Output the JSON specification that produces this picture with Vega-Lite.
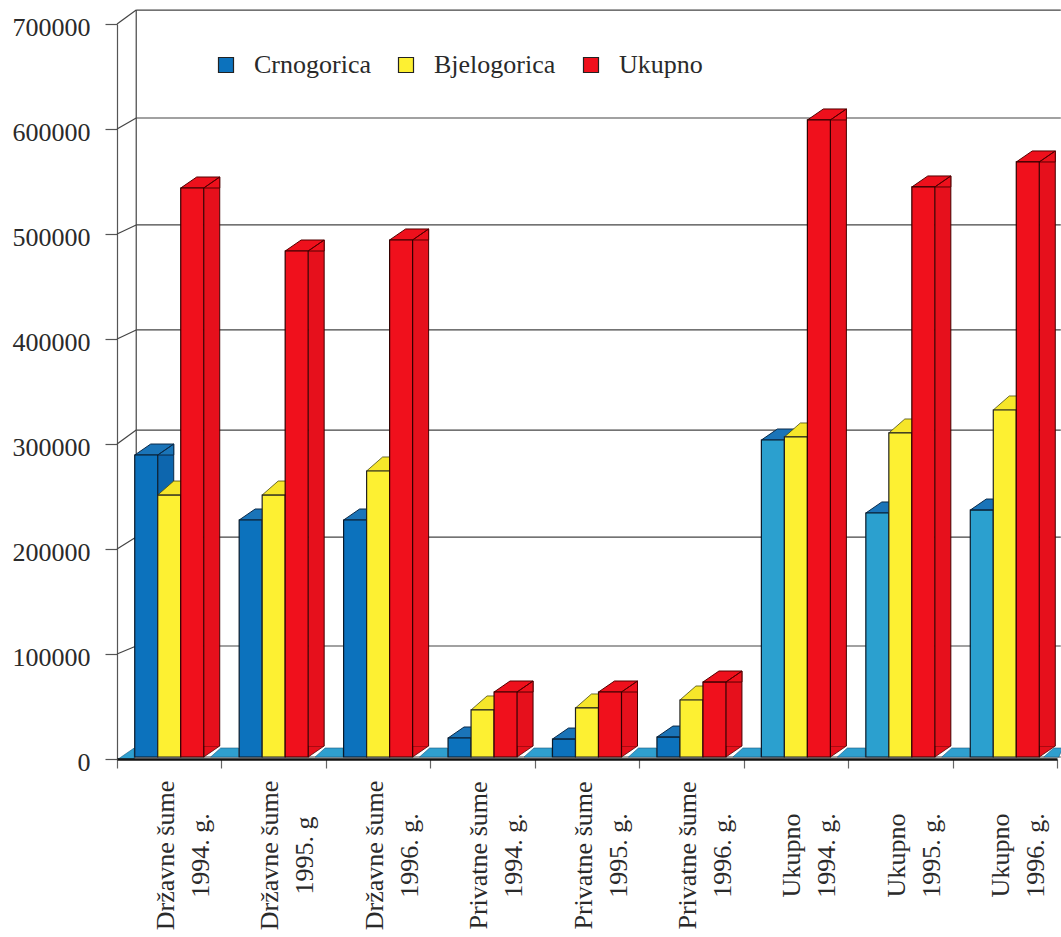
{"$schema":"https://vega.github.io/schema/vega-lite/v6.json","width":940,"height":735,"autosize":"none","padding":{"left":117,"top":24,"right":4,"bottom":178},"background":"white","config":{"view":{"stroke":null},"font":"Liberation Serif"},"datasets":{"sjeca":[
{"skupina":"Državne šume|1994. g.","vrsta":"Crnogorica","m3":287600},{"skupina":"Državne šume|1994. g.","vrsta":"Bjelogorica","m3":249500},{"skupina":"Državne šume|1994. g.","vrsta":"Ukupno","m3":541900},
{"skupina":"Državne šume|1995. g","vrsta":"Crnogorica","m3":225700},{"skupina":"Državne šume|1995. g","vrsta":"Bjelogorica","m3":249500},{"skupina":"Državne šume|1995. g","vrsta":"Ukupno","m3":481900},
{"skupina":"Državne šume|1996. g.","vrsta":"Crnogorica","m3":225700},{"skupina":"Državne šume|1996. g.","vrsta":"Bjelogorica","m3":272400},{"skupina":"Državne šume|1996. g.","vrsta":"Ukupno","m3":492400},
{"skupina":"Privatne šume|1994. g.","vrsta":"Crnogorica","m3":18100},{"skupina":"Privatne šume|1994. g.","vrsta":"Bjelogorica","m3":44800},{"skupina":"Privatne šume|1994. g.","vrsta":"Ukupno","m3":61900},
{"skupina":"Privatne šume|1995. g.","vrsta":"Crnogorica","m3":17100},{"skupina":"Privatne šume|1995. g.","vrsta":"Bjelogorica","m3":46700},{"skupina":"Privatne šume|1995. g.","vrsta":"Ukupno","m3":61900},
{"skupina":"Privatne šume|1996. g.","vrsta":"Crnogorica","m3":19000},{"skupina":"Privatne šume|1996. g.","vrsta":"Bjelogorica","m3":54300},{"skupina":"Privatne šume|1996. g.","vrsta":"Ukupno","m3":71400},
{"skupina":"Ukupno|1994. g.","vrsta":"Crnogorica","m3":301900},{"skupina":"Ukupno|1994. g.","vrsta":"Bjelogorica","m3":304800},{"skupina":"Ukupno|1994. g.","vrsta":"Ukupno","m3":606700},
{"skupina":"Ukupno|1995. g.","vrsta":"Crnogorica","m3":232400},{"skupina":"Ukupno|1995. g.","vrsta":"Bjelogorica","m3":308600},{"skupina":"Ukupno|1995. g.","vrsta":"Ukupno","m3":542900},
{"skupina":"Ukupno|1996. g.","vrsta":"Crnogorica","m3":235200},{"skupina":"Ukupno|1996. g.","vrsta":"Bjelogorica","m3":330500},{"skupina":"Ukupno|1996. g.","vrsta":"Ukupno","m3":566700}],
"mreza":[{"tick":0,"wall":1900},{"tick":100000,"wall":107600},{"tick":200000,"wall":211400},{"tick":300000,"wall":313300},{"tick":400000,"wall":408600},{"tick":500000,"wall":508600},{"tick":600000,"wall":610500},{"tick":700000,"wall":713300}],
"zid":[{"top":713300,"bottom":1900}]},
"layer":[
{"data":{"name":"mreza"},"mark":{"type":"rule","color":"#444","strokeWidth":1.2,"xOffset":-33,"x2Offset":56,"clip":false},"encoding":{
"x":{"datum":"Državne šume|1994. g.","type":"nominal","title":null,"scale":{"domain":["Državne šume|1994. g.","Državne šume|1995. g","Državne šume|1996. g.","Privatne šume|1994. g.","Privatne šume|1995. g.","Privatne šume|1996. g.","Ukupno|1994. g.","Ukupno|1995. g.","Ukupno|1996. g."],"paddingInner":0,"paddingOuter":0},"axis":{"zindex":1,"domainColor":"#111","domainWidth":2.5,"tickColor":"#666","tickSize":9,"tickWidth":1.2,"tickBand":"extent","labelAngle":270,"labelAlign":"center","labelBaseline":"middle","labelFont":"Liberation Serif","labelFontSize":26,"labelColor":"#2a2a2a","labelPadding":87,"labelLineHeight":35,"labelOffset":-4,"labelExpr":"split(datum.label,'|')","labelOverlap":false}},
"x2":{"datum":"Ukupno|1996. g."},
"y":{"field":"wall","type":"quantitative","title":null,"scale":{"domain":[0,700000],"nice":false},"axis":{"grid":false,"values":[0,100000,200000,300000,400000,500000,600000,700000],"format":"d","domainColor":"#555","domainWidth":1.2,"tickColor":"#555","tickWidth":1.2,"tickSize":12,"labelFont":"Liberation Serif","labelFontSize":26,"labelColor":"#2a2a2a","labelPadding":15,"labelOffset":3}}}},
{"data":{"name":"mreza"},"mark":{"type":"rule","color":"#444","strokeWidth":1.2,"xOffset":-52.2,"x2Offset":-33,"clip":false},"encoding":{"x":{"datum":"Državne šume|1994. g.","type":"nominal","title":null},"x2":{"datum":"Državne šume|1994. g."},"y":{"field":"tick","type":"quantitative","title":null},"y2":{"field":"wall"}}},
{"data":{"name":"zid"},"mark":{"type":"rule","color":"#444","strokeWidth":1.2,"xOffset":-33,"clip":false},"encoding":{"x":{"datum":"Državne šume|1994. g.","type":"nominal","title":null},"y":{"field":"top","type":"quantitative","title":null},"y2":{"field":"bottom"}}},
{"data":{"name":"sjeca"},"transform":[{"filter":"datum.vrsta==='Crnogorica' && datum.skupina!=='Državne šume|1994. g.'"}],"mark":{"type":"point","filled":true,"opacity":1,"size":4,"shape":"M-40,0L-30,-9L-12,-9L-12,0Z","fill":"#2f9fcf","stroke":"#1a5a80","strokeWidth":0.6,"xOffset":-23,"yOffset":-2},"encoding":{"x":{"field":"skupina","type":"nominal","title":null},"y":{"datum":0,"type":"quantitative","title":null}}},
{"data":{"name":"sjeca"},"transform":[{"filter":"datum.vrsta==='Crnogorica' && datum.skupina==='Državne šume|1994. g.'"}],"mark":{"type":"point","filled":true,"opacity":1,"size":4,"shape":"M-28,2L-12,-9L-12,0L-12,2Z","fill":"#2f9fcf","stroke":"#1a5a80","strokeWidth":0.6,"xOffset":-23,"yOffset":-2},"encoding":{"x":{"field":"skupina","type":"nominal","title":null},"y":{"datum":0,"type":"quantitative","title":null}}},
{"data":{"name":"sjeca"},"transform":[{"filter":"datum.vrsta==='Ukupno' && datum.skupina==='Ukupno|1996. g.'"}],"mark":{"type":"point","filled":true,"opacity":1,"size":4,"shape":"M16,0L26,-9L35,-9L31,0Z","fill":"#2f9fcf","stroke":"#1a5a80","strokeWidth":0.6,"xOffset":23,"yOffset":-2,"clip":false},"encoding":{"x":{"field":"skupina","type":"nominal","title":null},"y":{"datum":0,"type":"quantitative","title":null}}},

{"data":{"name":"sjeca"},"transform":[{"filter":"datum.vrsta==='Crnogorica'"}],"mark":{"type":"bar","width":16,"xOffset":-3.5,"yOffset":-2,"y2Offset":-13,"fill":"#0d66ae"},"encoding":{"x":{"field":"skupina","type":"nominal","title":null},"y":{"field":"m3","type":"quantitative","title":null},"y2":{"datum":0}}},
{"data":{"name":"sjeca"},"transform":[{"filter":"datum.vrsta==='Crnogorica'"}],"mark":{"type":"rule","color":"#0a2a4a","strokeWidth":1,"xOffset":4.5,"yOffset":-13,"y2Offset":-13},"encoding":{"x":{"field":"skupina","type":"nominal","title":null},"y":{"field":"m3","type":"quantitative","title":null},"y2":{"datum":0}}},
{"data":{"name":"sjeca"},"transform":[{"filter":"datum.vrsta==='Crnogorica'"}],"mark":{"type":"point","filled":true,"opacity":1,"size":4,"shape":"M-11.5,0L11.5,0L27.5,-11L4.5,-11ZM11.5,0L27.5,-11L27.5,0Z","fill":"#1a74b8","stroke":"#0a2a4a","strokeWidth":1,"xOffset":-23,"yOffset":-2},"encoding":{"x":{"field":"skupina","type":"nominal","title":null},"y":{"field":"m3","type":"quantitative","title":null}}},
{"data":{"name":"sjeca"},"transform":[{"filter":"datum.vrsta==='Crnogorica'"}],"mark":{"type":"bar","width":23,"xOffset":-23,"yOffset":-2,"y2Offset":-2,"stroke":"#0a1a2a","strokeWidth":1.2},"encoding":{"x":{"field":"skupina","type":"nominal","title":null},"y":{"field":"m3","type":"quantitative","title":null},"y2":{"datum":0},"color":{"condition":{"test":"indexof(datum.skupina,'Ukupno')===0","value":"#2ba0cf"},"field":"vrsta","type":"nominal","scale":{"domain":["Crnogorica","Bjelogorica","Ukupno"],"range":["#0c72bd","#fdf032","#f0101c"]},"legend":{"title":null,"orient":"none","legendX":96,"legendY":28,"direction":"horizontal","columns":3,"symbolType":"square","symbolSize":225,"symbolStrokeColor":"#222","symbolStrokeWidth":1.2,"symbolOpacity":1,"labelFont":"Liberation Serif","labelFontSize":26,"labelColor":"#2a2a2a","labelOffset":15,"columnPadding":22,"labelLimit":300}}}},

{"data":{"name":"sjeca"},"transform":[{"filter":"datum.vrsta==='Bjelogorica'"}],"mark":{"type":"bar","width":16,"xOffset":19.5,"yOffset":-2,"y2Offset":-13,"fill":"#ecdc20"},"encoding":{"x":{"field":"skupina","type":"nominal","title":null},"y":{"field":"m3","type":"quantitative","title":null},"y2":{"datum":0}}},
{"data":{"name":"sjeca"},"transform":[{"filter":"datum.vrsta==='Bjelogorica'"}],"mark":{"type":"point","filled":true,"opacity":1,"size":4,"shape":"M-11.5,0L11.5,0L27.5,-14L4.5,-14ZM11.5,0L27.5,-14L27.5,0Z","fill":"#f6e62a","stroke":"#4a4a10","strokeWidth":0.8,"yOffset":-2},"encoding":{"x":{"field":"skupina","type":"nominal","title":null},"y":{"field":"m3","type":"quantitative","title":null}}},
{"data":{"name":"sjeca"},"transform":[{"filter":"datum.vrsta==='Bjelogorica'"}],"mark":{"type":"bar","width":23,"yOffset":-2,"y2Offset":-2,"stroke":"#222","strokeWidth":1.2},"encoding":{"x":{"field":"skupina","type":"nominal","title":null},"y":{"field":"m3","type":"quantitative","title":null},"y2":{"datum":0},"color":{"field":"vrsta","type":"nominal","legend":null}}},

{"data":{"name":"sjeca"},"transform":[{"filter":"datum.vrsta==='Ukupno'"}],"mark":{"type":"point","filled":true,"opacity":1,"size":4,"shape":"M11.5,0L27.5,-11L11.5,-11Z","fill":"#e6101c","stroke":"#500","strokeWidth":0.8,"xOffset":23,"yOffset":-2},"encoding":{"x":{"field":"skupina","type":"nominal","title":null},"y":{"datum":0,"type":"quantitative","title":null}}},
{"data":{"name":"sjeca"},"transform":[{"filter":"datum.vrsta==='Ukupno'"}],"mark":{"type":"bar","width":16,"xOffset":42.5,"yOffset":-2,"y2Offset":-13,"fill":"#e6101c"},"encoding":{"x":{"field":"skupina","type":"nominal","title":null},"y":{"field":"m3","type":"quantitative","title":null},"y2":{"datum":0}}},
{"data":{"name":"sjeca"},"transform":[{"filter":"datum.vrsta==='Ukupno'"}],"mark":{"type":"rule","color":"#400","strokeWidth":1,"xOffset":50.5,"yOffset":-13,"y2Offset":-13},"encoding":{"x":{"field":"skupina","type":"nominal","title":null},"y":{"field":"m3","type":"quantitative","title":null},"y2":{"datum":0}}},
{"data":{"name":"sjeca"},"transform":[{"filter":"datum.vrsta==='Ukupno'"}],"mark":{"type":"point","filled":true,"opacity":1,"size":4,"shape":"M-11.5,0L11.5,0L27.5,-11L4.5,-11ZM11.5,0L27.5,-11L27.5,0Z","fill":"#ee101c","stroke":"#500","strokeWidth":1,"xOffset":23,"yOffset":-2},"encoding":{"x":{"field":"skupina","type":"nominal","title":null},"y":{"field":"m3","type":"quantitative","title":null}}},
{"data":{"name":"sjeca"},"transform":[{"filter":"datum.vrsta==='Ukupno'"}],"mark":{"type":"bar","width":23,"xOffset":23,"yOffset":-2,"y2Offset":-2,"stroke":"#300","strokeWidth":1.2},"encoding":{"x":{"field":"skupina","type":"nominal","title":null},"y":{"field":"m3","type":"quantitative","title":null},"y2":{"datum":0},"color":{"field":"vrsta","type":"nominal","legend":null}}}
]}
